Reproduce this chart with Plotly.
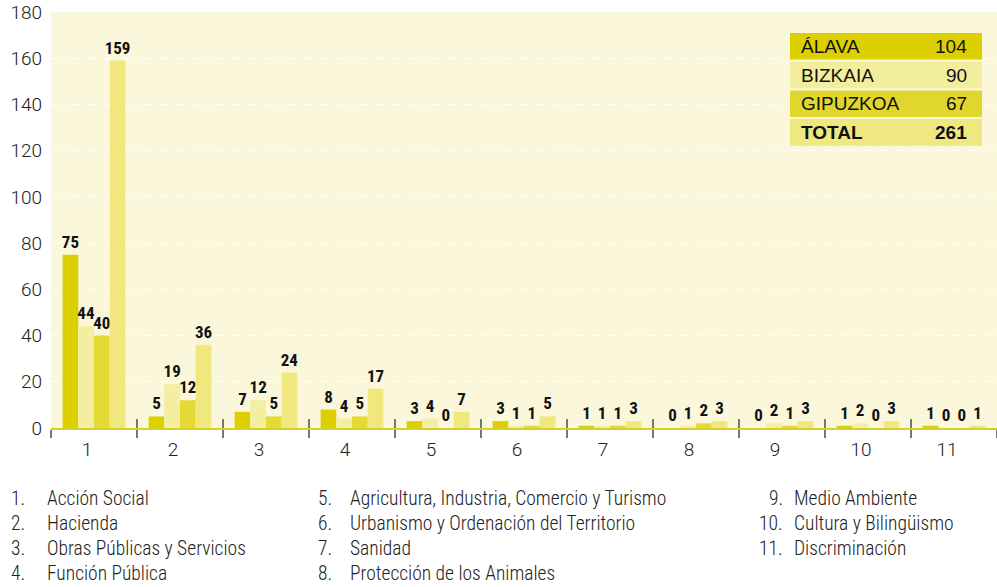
import plotly.graph_objects as go

# Complaints by subject area and territory
categories = ["1", "2", "3", "4", "5", "6", "7", "8", "9", "10", "11"]
category_names = [
    "Acción Social",
    "Hacienda",
    "Obras Públicas y Servicios",
    "Función Pública",
    "Agricultura, Industria, Comercio y Turismo",
    "Urbanismo y Ordenación del Territorio",
    "Sanidad",
    "Protección de los Animales",
    "Medio Ambiente",
    "Cultura y Bilingüismo",
    "Discriminación",
]
alava = [75, 5, 7, 8, 3, 3, 1, 0, 0, 1, 1]
bizkaia = [44, 19, 12, 4, 4, 1, 1, 1, 2, 2, 0]
gipuzkoa = [40, 12, 5, 5, 0, 1, 1, 2, 1, 0, 0]
total = [159, 36, 24, 17, 7, 5, 3, 3, 3, 3, 1]
series_names = ["ÁLAVA", "BIZKAIA", "GIPUZKOA", "TOTAL"]
y_ticks = [0, 20, 40, 60, 80, 100, 120, 140, 160, 180]

bar_colors = ["#dcd000", "#f3eea0", "#e4d935", "#f0e87e"]
table_colors = ["#dcd000", "#f2ee9e", "#e0d62e", "#efe780"]
plot_bg = "#faf7da"
value_font = "Roboto Condensed, Liberation Sans Narrow, Roboto, sans-serif"
text_font = "Roboto Condensed, Liberation Sans Narrow, Roboto, sans-serif"

fig = go.Figure()

for name, values, color in zip(series_names, [alava, bizkaia, gipuzkoa, total], bar_colors):
    fig.add_trace(go.Bar(
        x=categories,
        y=values,
        name=name,
        marker=dict(color=color, line=dict(width=0)),
        text=[str(v) for v in values],
        textposition="outside",
        constraintext="none",
        cliponaxis=False,
        textfont=dict(family=value_font, size=17, color="#111111", weight="bold"),
        showlegend=False,
        hoverinfo="skip",
    ))

# helper trace so the overlaid axis can draw the upward half of the boundary ticks
fig.add_trace(go.Scatter(
    x=categories, y=[0] * len(categories), xaxis="x2", mode="markers",
    marker=dict(opacity=0, size=1), showlegend=False, hoverinfo="skip",
))

plot_left, plot_width, plot_top, plot_height = 51, 946, 12, 416


def px_x(px):
    return (px - plot_left) / plot_width


def px_y(py):
    return (plot_top + plot_height - py) / plot_height


# summary box of totals per territory
sums = [sum(alava), sum(bizkaia), sum(gipuzkoa), sum(total)]
box_left, box_right, box_top, row_pitch, row_h = 790, 982, 33, 28.7, 26.6
for i, (name, s) in enumerate(zip(series_names, sums)):
    top = box_top + i * row_pitch
    fig.add_shape(
        type="rect", xref="paper", yref="paper",
        x0=px_x(box_left), x1=px_x(box_right),
        y0=px_y(top + row_h), y1=px_y(top),
        fillcolor=table_colors[i], line=dict(width=0), layer="above",
    )
    bold = i == 3
    label = "<b>" + name + "</b>" if bold else name
    value = "<b>" + str(s) + "</b>" if bold else str(s)
    fig.add_annotation(
        text=label, xref="paper", yref="paper",
        x=px_x(box_left + 9), y=px_y(top + row_h / 2),
        xanchor="left", yanchor="middle", showarrow=False,
        font=dict(family="Liberation Sans, Arial, sans-serif", size=19, color="#111111"),
    )
    fig.add_annotation(
        text=value, xref="paper", yref="paper",
        x=px_x(box_right - 13), y=px_y(top + row_h / 2),
        xanchor="right", yanchor="middle", showarrow=False,
        font=dict(family="Liberation Sans, Arial, sans-serif", size=19, color="#111111"),
    )

# subject-area key below the chart
columns = [(0, 4, 9, 45), (4, 8, 316, 348), (8, 11, 785, 792)]
line_y = [498, 523, 548, 573]
key_font = dict(family=text_font, size=19.5, color="#222222", weight=300)
for start, stop, num_x, txt_x in columns:
    for row, idx in enumerate(range(start, stop)):
        yp = px_y(line_y[row])
        num_anchor = "right" if start == 8 else "left"
        fig.add_annotation(
            text=categories[idx] + ".", xref="paper", yref="paper",
            x=px_x(num_x), y=yp,
            xanchor=num_anchor, yanchor="middle", showarrow=False,
            font=key_font,
        )
        fig.add_annotation(
            text=category_names[idx], xref="paper", yref="paper",
            x=px_x(txt_x), y=yp,
            xanchor="left", yanchor="middle", showarrow=False,
            font=key_font,
        )

fig.update_layout(
    width=997,
    height=587,
    margin=dict(l=51, r=0, t=12, b=159),
    paper_bgcolor="white",
    plot_bgcolor=plot_bg,
    barmode="group",
    bargap=0.27,
    bargroupgap=0,
    xaxis=dict(
        type="category",
        categoryarray=categories,
        range=[-0.5, 10.5],
        tickson="boundaries",
        ticks="outside",
        ticklen=8,
        tickwidth=2,
        tickcolor="#777777",
        showline=True,
        linecolor="#d8ce2a",
        linewidth=2,
        showgrid=False,
        ticklabelshift=-7,
        ticklabelstandoff=3,
        tickfont=dict(family="Roboto, sans-serif", size=19, color="#222222", weight=300),
    ),
    xaxis2=dict(
        type="category",
        categoryarray=categories,
        range=[-0.5, 10.5],
        overlaying="x",
        anchor="y",
        side="bottom",
        tickson="boundaries",
        ticks="inside",
        ticklen=9,
        tickwidth=2,
        tickcolor="#777777",
        showticklabels=False,
        showgrid=False,
        showline=False,
    ),
    yaxis=dict(
        range=[0, 180],
        tickvals=y_ticks,
        showgrid=True,
        gridcolor="white",
        griddash="dash",
        gridwidth=1,
        zeroline=False,
        showline=False,
        ticks="",
        ticklabelstandoff=8,
        tickfont=dict(family="Roboto, sans-serif", size=19, color="#222222", weight=300),
    ),
)

fig.write_html("out.html")
